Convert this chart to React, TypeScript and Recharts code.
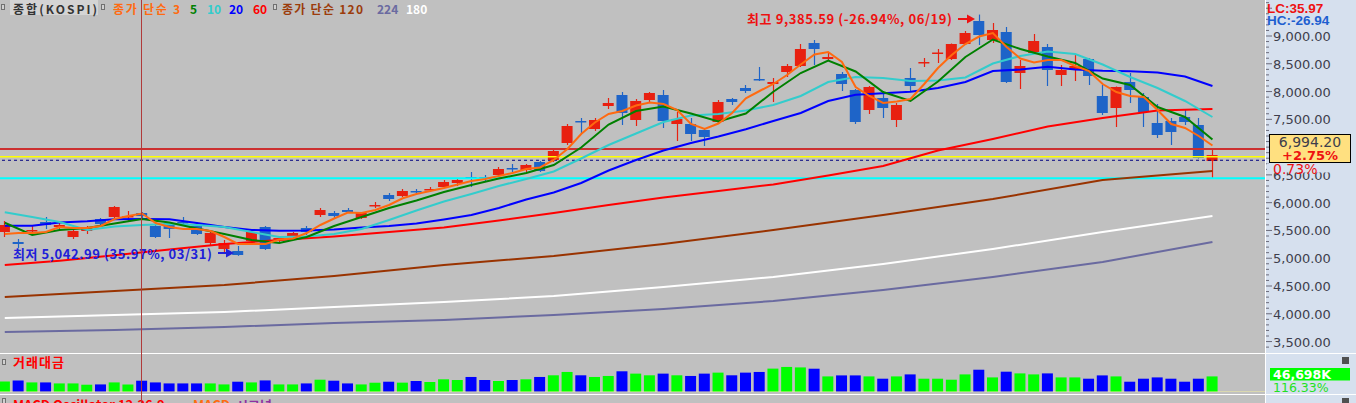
import React from "react";
import {
  ComposedChart,
  Bar,
  Line,
  XAxis,
  YAxis,
  ReferenceLine,
  Cell,
} from "recharts";

const W = 1356;
const H = 403;
const AXIS_W = 91;

// daily candles, KOSPI
const opens = [
  5472, 5292, 5490, 5652, 5562, 5382, 5490, 5706, 5742, 5742,
  5814, 5580, 5634, 5652, 5580, 5274, 5166, 5130, 5310, 5562,
  5355, 5400, 5544, 5778, 5814, 5868, 5724, 5949, 6138, 6120,
  6210, 6228, 6282, 6354, 6462, 6462, 6498, 6624, 6588, 6732,
  6768, 7074, 7470, 7326, 7740, 7938, 7488, 7848, 7938, 7416,
  7416, 7308, 7452, 7866, 8064, 8226, 8136, 8352, 8460, 8874,
  8586, 8316, 8028, 7668, 7884, 7488, 8244, 8514, 8685, 8586,
  8856, 9270, 8928, 9072, 8334, 8694, 8802, 8298, 8388, 8586,
  7920, 7704, 8172, 7902, 7434, 7470, 7542, 7398, 6750,
];
const highs = [
  5670, 5346, 5580, 5742, 5652, 5526, 5580, 5724, 5940, 5850,
  5832, 5598, 5640, 5742, 5598, 5472, 5328, 5220, 5526, 5580,
  5400, 5472, 5580, 5904, 5850, 5904, 5832, 6012, 6174, 6246,
  6246, 6282, 6408, 6444, 6552, 6498, 6642, 6696, 6696, 6750,
  6966, 7416, 7524, 7524, 7884, 7992, 7866, 7992, 8028, 7632,
  7524, 7344, 7848, 7884, 8118, 8442, 8244, 8496, 8856, 8928,
  8712, 8352, 8046, 8100, 7992, 7794, 8424, 8604, 8766, 8865,
  9090, 9385.59, 9234, 9162, 8568, 9036, 8856, 8478, 8658, 8604,
  8118, 8091, 8334, 7974, 7776, 7524, 7686, 7524, 6948,
];
const lows = [
  5382, 5184, 5418, 5526, 5508, 5346, 5436, 5580, 5724, 5652,
  5688, 5364, 5364, 5580, 5418, 5220, 5112, 5042.99, 5274, 5148,
  5292, 5364, 5418, 5742, 5724, 5814, 5706, 5904, 6030, 6102,
  6156, 6192, 6264, 6300, 6282, 6372, 6462, 6552, 6552, 6552,
  6732, 7038, 7236, 7290, 7686, 7398, 7380, 7812, 7344, 7110,
  7110, 7020, 7416, 7758, 7974, 8190, 7812, 8262, 8442, 8478,
  8550, 8010, 7416, 7596, 7524, 7362, 8010, 8442, 8514, 8568,
  8838, 8838, 8874, 8154, 8046, 8676, 8100, 8100, 8190, 8118,
  7578, 7362, 7794, 7362, 7164, 7038, 7398, 6795, 6444,
];
const closes = [
  5598, 5256, 5508, 5598, 5598, 5490, 5544, 5616, 5922, 5760,
  5760, 5382, 5526, 5634, 5436, 5454, 5274, 5058, 5472, 5166,
  5364, 5454, 5472, 5868, 5760, 5832, 5814, 5958, 6066, 6210,
  6192, 6246, 6372, 6408, 6444, 6444, 6606, 6606, 6678, 6570,
  6930, 7380, 7452, 7488, 7794, 7614, 7830, 7974, 7470, 7506,
  7236, 7182, 7812, 7812, 8010, 8199, 8172, 8460, 8766, 8766,
  8622, 8136, 7452, 8082, 7704, 7758, 8100, 8532, 8703, 8856,
  9054, 9018, 9108, 8172, 8460, 8910, 8388, 8388, 8460, 8280,
  7614, 8082, 8028, 7632, 7218, 7272, 7452, 6804, 6857,
];

// 거래대금 (K)
const volumes = [
  31700, 34700, 28700, 28700, 25700, 25700, 21800, 22700, 28700, 22700,
  33800, 28700, 25700, 25700, 25700, 25700, 22700, 30800, 28700, 34700,
  22700, 22700, 25700, 36800, 33800, 25700, 22700, 27800, 30800, 28000,
  33000, 30000, 38000, 36000, 45000, 36000, 33000, 36000, 38000, 45000,
  50000, 60000, 50000, 45000, 48000, 62000, 55000, 50000, 55000, 50000,
  48000, 55000, 58000, 50000, 58000, 60000, 70000, 75000, 73600, 69700,
  46700, 49700, 49700, 46700, 39800, 46700, 52700, 39800, 39800, 36800,
  52700, 66700, 43700, 60800, 55700, 52700, 55700, 43700, 43700, 39800,
  49700, 46700, 30800, 39800, 43700, 39800, 30800, 39800, 46698,
];

// 종가 단순 3 (every candle)
const ma3 = [
  5436, 5454, 5454, 5472, 5562, 5544, 5544, 5580, 5706, 5760,
  5805, 5634, 5562, 5526, 5526, 5490, 5382, 5256, 5256, 5256,
  5337, 5355, 5454, 5598, 5715, 5823, 5814, 5868, 5958, 6079,
  6156, 6210, 6264, 6327, 6390, 6426, 6480, 6534, 6606, 6633,
  6768, 6966, 7236, 7443, 7596, 7650, 7749, 7803, 7776, 7668,
  7416, 7326, 7425, 7614, 7879, 8010, 8136, 8298, 8487, 8667,
  8712, 8532, 8082, 7920, 7794, 7821, 7866, 8136, 8424, 8658,
  8856, 8991, 9054, 8802, 8595, 8523, 8568, 8568, 8460, 8370,
  8136, 7992, 7920, 7902, 7668, 7416, 7344, 7200, 7029,
];
// 5 / 10 / 20 read every 2nd candle
const ma5 = [
  5639, 5418, 5508, 5544, 5625, 5706, 5643, 5535, 5436, 5328,
  5274, 5382, 5580, 5742, 5904, 6039, 6192, 6318, 6435, 6534,
  6678, 6993, 7407, 7650, 7731, 7605, 7461, 7605, 7997, 8334,
  8559, 8361, 7992, 7830, 8181, 8622, 8937, 8766, 8631, 8514,
  8235, 8118, 7722, 7542, 7137,
];
const ma10 = [
  5827, 5742, 5652, 5508, 5571, 5598, 5616, 5598, 5562, 5472,
  5382, 5391, 5436, 5526, 5688, 5859, 6021, 6156, 6300, 6426,
  6561, 6795, 7038, 7245, 7452, 7569, 7596, 7659, 7758, 7920,
  8172, 8262, 8244, 8190, 8199, 8253, 8505, 8640, 8721, 8676,
  8487, 8262, 8064, 7830, 7542,
];
const ma20 = [
  5585, 5585, 5643, 5666, 5701, 5706, 5701, 5634, 5562, 5508,
  5494, 5499, 5517, 5553, 5580, 5625, 5697, 5778, 5904, 6057,
  6183, 6354, 6579, 6768, 6939, 7074, 7191, 7321, 7470, 7614,
  7830, 7942, 7969, 7996, 8064, 8172, 8370, 8397, 8447, 8397,
  8375, 8366, 8343, 8271, 8100,
];
// 60 read every 4th candle
const ma60 = [
  4878, 4955, 5054, 5157, 5256, 5328, 5391, 5472, 5553, 5677,
  5816, 5956, 6093, 6210, 6327, 6489, 6660, 6939, 7146, 7371,
  7524, 7659, 7686,
];
// 120 / 224 / 180 read every 8th candle
const ma120 = [4302, 4410, 4518, 4680, 4878, 5040, 5256, 5508, 5778, 6066, 6408, 6570];
const ma224 = [3672, 3708, 3762, 3834, 3888, 3978, 4086, 4230, 4428, 4662, 4932, 5292];
const ma180 = [3924, 3978, 4032, 4122, 4212, 4320, 4482, 4662, 4896, 5166, 5472, 5760];

// 7,000 sits under the current-price box, so it is not labelled
const priceLabels = [3500, 4000, 4500, 5000, 5500, 6000, 6500, 7500, 8000, 8500, 9000];

const pick = (arr: number[], step: number, i: number) =>
  i % step === 0 && arr[i / step] !== undefined ? arr[i / step] : null;

const rows = opens.map((o, i) => ({
  i,
  open: o,
  high: highs[i],
  low: lows[i],
  close: closes[i],
  range: [lows[i], highs[i]],
  vol: volumes[i],
  ma3: ma3[i],
  ma5: pick(ma5, 2, i),
  ma10: pick(ma10, 2, i),
  ma20: pick(ma20, 2, i),
  ma60: pick(ma60, 4, i),
  ma120: pick(ma120, 8, i),
  ma224: pick(ma224, 8, i),
  ma180: pick(ma180, 8, i),
}));

const UP = "#e82010";
const DOWN = "#1e64c8";
const X_DOMAIN = [-0.348, 91.83];
const KR = "'Noto Sans CJK KR', sans-serif";

const minorTicks: number[] = [];
for (let v = 3400; v <= 9600; v += 100) minorTicks.push(v);

const fmt = (v: number) =>
  v.toLocaleString("en-US", { minimumFractionDigits: 2, maximumFractionDigits: 2 });

const PriceTick = (props: any) => {
  const { y, payload } = props;
  const v = payload.value;
  const major = v % 500 === 0;
  const label = priceLabels.includes(v);
  return (
    <g>
      <line x1={1266} x2={major ? 1272 : 1269} y1={y} y2={y} stroke="#6a6a7a" />
      {label && (
        <text x={1273} y={y + 5} fontSize={13} fontFamily="DejaVu Sans" fill="#3e3e4c">
          {fmt(v)}
        </text>
      )}
    </g>
  );
};

const Candle = (props: any) => {
  const { x, y, width, height, payload } = props;
  if (x == null || !payload) return null;
  const { open, close, high, low } = payload;
  const color = close >= open ? UP : DOWN;
  const top = Math.min(y, y + height);
  const h = Math.abs(height);
  const span = high - low || 1;
  const yOf = (v: number) => top + ((high - v) / span) * h;
  const b1 = yOf(Math.max(open, close));
  const b2 = yOf(Math.min(open, close));
  const cx = Math.round(x + width / 2) + 0.5;
  return (
    <g>
      <line x1={cx} x2={cx} y1={top} y2={top + h} stroke={color} strokeWidth={1.2} />
      <rect x={x} y={b1} width={width} height={Math.max(b2 - b1, 1.5)} fill={color} />
    </g>
  );
};

const Box = ({ x, y }: { x: number; y: number }) => (
  <rect x={x + 0.5} y={y + 0.5} width={3} height={5} fill="#d0d0d0" stroke="#707070" />
);

export default function App() {
  return (
    <div
      style={{
        position: "fixed",
        left: 0,
        top: 0,
        width: W,
        height: H,
        overflow: "hidden",
        background: "#c0c0c0",
      }}
    >
      <div
        style={{ position: "absolute", left: 1266, top: 0, width: W - 1266, height: H, background: "#d6e0ee" }}
      />
      <div style={{ position: "absolute", left: 0, top: 0 }}>
        <ComposedChart width={W} height={352} data={rows} margin={{ top: 0, right: 0, bottom: 0, left: 0 }}>
          <XAxis dataKey="i" type="number" domain={X_DOMAIN} allowDataOverflow hide />
          <YAxis
            orientation="right"
            width={AXIS_W}
            domain={[3312, 9648]}
            allowDataOverflow
            ticks={minorTicks}
            interval={0}
            tick={<PriceTick />}
            tickLine={false}
            axisLine={false}
          />
          <ReferenceLine y={6439} stroke="#00ffff" strokeWidth={2} />
          <ReferenceLine y={6763} stroke="#000080" strokeDasharray="3 3" />
          <ReferenceLine y={6827} stroke="#ffff00" strokeWidth={1.5} />
          <ReferenceLine y={6966} stroke="#cc3030" strokeWidth={2} />
          <Line dataKey="ma224" stroke="#6a6aa0" strokeWidth={2} dot={false} connectNulls isAnimationActive={false} />
          <Line dataKey="ma180" stroke="#ffffff" strokeWidth={2} dot={false} connectNulls isAnimationActive={false} />
          <Line dataKey="ma120" stroke="#993300" strokeWidth={2} dot={false} connectNulls isAnimationActive={false} />
          <Line dataKey="ma60" stroke="#ff0000" strokeWidth={2} dot={false} connectNulls isAnimationActive={false} />
          <Line dataKey="ma20" stroke="#0000ff" strokeWidth={2} dot={false} connectNulls isAnimationActive={false} />
          <Line dataKey="ma10" stroke="#33cccc" strokeWidth={2} dot={false} connectNulls isAnimationActive={false} />
          <Line dataKey="ma5" stroke="#008000" strokeWidth={2} dot={false} connectNulls isAnimationActive={false} />
          <Line dataKey="ma3" stroke="#ff6a10" strokeWidth={2} dot={false} connectNulls isAnimationActive={false} />
          <Bar dataKey="range" barSize={11} shape={<Candle />} isAnimationActive={false} />
        </ComposedChart>
      </div>
      <div style={{ position: "absolute", left: 0, top: 352 }}>
        <ComposedChart width={W} height={40} data={rows} margin={{ top: 0, right: 0, bottom: 0, left: 0 }}>
          <XAxis dataKey="i" type="number" domain={X_DOMAIN} allowDataOverflow hide />
          <YAxis orientation="right" width={AXIS_W} domain={[0, 119720]} tick={false} tickLine={false} axisLine={false} />
          <ReferenceLine y={0} stroke="#f4f0a0" />
          <Bar dataKey="vol" barSize={11} isAnimationActive={false}>
            {rows.map((r) => (
              <Cell key={r.i} fill={r.close >= r.open ? "#00ff00" : "#0000ff"} />
            ))}
          </Bar>
        </ComposedChart>
      </div>
      <svg width={W} height={H} style={{ position: "absolute", left: 0, top: 0 }}>
        <line x1={0} x2={W} y1={353.5} y2={353.5} stroke="#ffffff" />
        <line x1={0} x2={W} y1={394.5} y2={394.5} stroke="#ffffff" />
        <line x1={1265.5} x2={1265.5} y1={0} y2={H} stroke="#ffffff" />

        {/* header legend */}
        <rect x={10} y={0} width={88} height={15} fill="#d4d4d4" />
        <Box x={1} y={4} />
        <g fontFamily={KR} fontWeight={700} fontSize={12}>
          <text x={13} y={14} fill="#333333" textLength={84}>종합(KOSPI)</text>
          <text x={113} y={14} fill="#ff6a10" textLength={67}>종가 단순 3</text>
          <text x={190} y={14} fill="#008000">5</text>
          <text x={207} y={14} fill="#33cccc">10</text>
          <text x={229} y={14} fill="#0000ff">20</text>
          <text x={253} y={14} fill="#ff0000">60</text>
          <text x={282} y={14} fill="#9c3c0c" textLength={81}>종가 단순 120</text>
          <text x={377} y={14} fill="#6a6aa0">224</text>
          <text x={406} y={14} fill="#ffffff">180</text>
        </g>
        <Box x={101} y={4} />
        <Box x={273} y={4} />

        {/* high / low marks */}
        <g fontFamily={KR} fontWeight={700} fontSize={13}>
          <text x={747} y={24} fill="#ee1111" textLength={205}>최고 9,385.59 (-26.94%, 06/19)</text>
          <text x={13} y={259} fill="#2020d8" textLength={199}>최저 5,042.99 (35.97%, 03/31)</text>
        </g>
        <line x1={958} x2={969} y1={19} y2={19} stroke="#ee1111" strokeWidth={2} />
        <polygon points="967,14.5 975,19 967,23.5" fill="#ee1111" />
        <line x1={218} x2={228} y1={253} y2={253} stroke="#2020d8" strokeWidth={2} />
        <polygon points="226,248.5 234,253 226,257.5" fill="#2020d8" />

        {/* right side labels */}
        <g fontFamily="Liberation Sans" fontWeight={700} fontSize={13.5}>
          <text x={1267} y={12.5} fill="#ee1111">LC:35.97</text>
          <text x={1267} y={24.5} fill="#1e5fd0">HC:-26.94</text>
        </g>
        <rect x={1269.5} y={134.5} width={81} height={28} fill="#ffe080" stroke="#000000" />
        <text x={1310} y={146.5} textAnchor="middle" fontFamily="DejaVu Sans" fontSize={14} fill="#3e3e4c">6,994.20</text>
        <text x={1310} y={160} textAnchor="middle" fontFamily="DejaVu Sans" fontWeight={700} fontSize={13} fill="#ee1111">+2.75%</text>
        <rect x={1267} y={163.5} width={85} height={9} fill="#d6e0ee" />
        <text x={1273} y={174} fontFamily="DejaVu Sans" fontSize={14} fill="#ee1111">0.73%</text>

        {/* volume pane */}
        <Box x={2} y={359} />
        <text x={13} y={367} fontFamily={KR} fontWeight={700} fontSize={13} fill="#ff0000" textLength={51}>거래대금</text>
        <rect x={1270} y={368} width={80} height={12.5} fill="#00ff00" />
        <text x={1273} y={379} fontFamily="DejaVu Sans" fontWeight={700} fontSize={12.5} fill="#ffffff">46,698K</text>
        <text x={1273} y={392} fontFamily="DejaVu Sans" fontSize={12.5} fill="#22e022">116.33%</text>
        <rect x={1342} y={357} width={7} height={7} fill="#505050" />
        <rect x={1342} y={398} width={7} height={7} fill="#505050" />

        {/* MACD pane title (cut off, as in the source) */}
        <Box x={2} y={398} />
        <g fontFamily={KR} fontWeight={700} fontSize={13}>
          <text x={13} y={410} fill="#ff0000">MACD Oscillator 12,26,9</text>
          <text x={193} y={410} fill="#ff6a10">MACD</text>
          <text x={236} y={410} fill="#9030a0">시그널</text>
        </g>

        {/* crosshair */}
        <line x1={141.5} x2={141.5} y1={0} y2={H} stroke="#b03a3a" />
      </svg>
    </div>
  );
}
